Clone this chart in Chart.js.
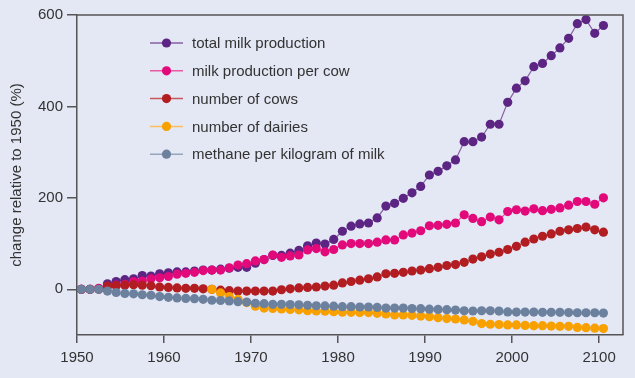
<!DOCTYPE html>
<html>
<head>
<meta charset="utf-8">
<script src="https://cdn.jsdelivr.net/npm/chart.js@4/dist/chart.umd.min.js"></script>
<style>
  html, body { margin: 0; padding: 0; background: #e4e7f4; }
  #wrap { width: 635px; height: 378px; position: relative; }
</style>
</head>
<body>
<div id="wrap"><canvas id="chart"></canvas></div>
<script>
const years = [
  1950, 1951, 1952, 1953, 1954, 1955, 1956, 1957, 1958, 1959,
  1960, 1961, 1962, 1963, 1964, 1965, 1966, 1967, 1968, 1969,
  1970, 1971, 1972, 1973, 1974, 1975, 1976, 1977, 1978, 1979,
  1980, 1981, 1982, 1983, 1984, 1985, 1986, 1987, 1988, 1989,
  1990, 1991, 1992, 1993, 1994, 1995, 1996, 1997, 1998, 1999,
  2000, 2001, 2002, 2003, 2004, 2005, 2006, 2007, 2008, 2009,
  2010,
];

const totalMilk = [
  0, 0, 1, 12, 17, 21, 23, 30, 29, 34,
  36, 38, 38, 40, 42, 42, 44, 46, 48, 48,
  57, 65, 74, 74, 79, 85, 95, 101, 99, 109,
  127, 138, 143, 145, 156, 182, 188, 199, 211, 225,
  250, 258, 270, 283, 323, 323, 333, 361, 361, 409,
  440, 456, 487, 494, 511, 528, 549, 581, 590, 560,
  577,
];

const milkPerCow = [
  0, 0, 2, 6, 9, 11, 17, 18, 23, 25,
  28, 33, 35, 37, 41, 42, 42, 47, 53, 56,
  62, 65, 75, 70, 73, 75, 86, 89, 82, 87,
  97, 100, 100, 100, 103, 108, 108, 119, 123, 128,
  139, 140, 142, 145, 163, 155, 148, 158, 152, 170,
  174, 171, 176, 172, 175, 178, 184, 192, 192, 186,
  200,
];

const cows = [
  0, 0, 0, 7, 8, 9, 10, 9, 8, 5,
  4, 3, 2, 2, 1, 0, -2, -3, -4, -4,
  -4, -4, -4, -1, 1, 3, 4, 5, 7, 9,
  14, 17, 20, 23, 27, 34, 35, 37, 40, 42,
  45, 48, 52, 54, 59, 66, 71, 77, 81, 87,
  94, 103, 110, 116, 121, 127, 130, 133, 136, 130,
  125,
];

const dairies = [
  null, null, null, null, null, null, null, null, null, null,
  null, null, null, null, null, 0, -8, -16, -22, -29,
  -37, -41, -42, -43, -44, -45, -47, -47.5, -48, -49,
  -50, -50.5, -51, -51, -52.5, -54, -56, -56, -57, -58.5,
  -60, -62, -64, -65, -67, -70, -75, -76.5, -77, -78,
  -78, -79, -79.5, -79.5, -80.5, -81, -81, -83.5, -84, -85,
  -86,
];

const methane = [
  0, 0, 0, -4, -7, -9, -10, -12, -13, -16,
  -17.5, -19, -20, -20.5, -22, -24, -24.5, -25.5, -27, -28,
  -30.5, -31.5, -33, -33, -33.5, -34, -35, -36, -36.5, -37,
  -38, -38, -38.8, -38.8, -39.6, -41, -41, -41, -42, -42.5,
  -43.5, -44, -44.7, -45.4, -47, -47.5, -47, -47, -47.6, -49.5,
  -49.8, -49.8, -49.8, -50.5, -50.5, -50.5, -51, -51.3, -51.3, -51.3,
  -52,
];

const seriesNames = [
  "total milk production",
  "milk production per cow",
  "number of cows",
  "number of dairies",
  "methane per kilogram of milk",
];
const seriesColors = ["#5c2483", "#e2097a", "#b21d22", "#f7a000", "#6c819e"];
const lineColors = ["#8661a3", "#ea5aa2", "#c8585c", "#f9c060", "#95a5bb"];

const xTicks = [1950, 1960, 1970, 1980, 1990, 2000, 2010];
const xTickLabels = ["1950", "1960", "1970", "1980", "1990", "2000", "2100"];
const yTicks = [0, 200, 400, 600];

const FONT = "'Liberation Sans', Arial, sans-serif";
const TEXT = "#333333";
const AXIS = "#555555";

(function () {
  const canvas = document.getElementById("chart");
  const allSeries = [totalMilk, milkPerCow, cows, dairies, methane];

  // points are yearly averages, so they sit at mid-year
  const datasets = allSeries.map((vals, k) => ({
    label: seriesNames[k],
    data: vals.map((v, i) => ({ x: years[i] + 0.5, y: v })),
    borderColor: lineColors[k],
    backgroundColor: seriesColors[k],
    pointBackgroundColor: seriesColors[k],
    pointBorderWidth: 0,
    pointRadius: 4.6,
    borderWidth: 1.2,
    tension: 0,
    spanGaps: false,
    order: allSeries.length - k,
  }));

  const framePlugin = {
    id: "frame",
    afterDatasetsDraw(chart) {
      const { ctx, chartArea } = chart;
      ctx.save();
      ctx.strokeStyle = AXIS;
      ctx.lineWidth = 1.5;
      ctx.beginPath();
      ctx.moveTo(chartArea.left, chartArea.top);
      ctx.lineTo(chartArea.right, chartArea.top);
      ctx.lineTo(chartArea.right, chartArea.bottom);
      ctx.stroke();
      ctx.restore();
    },
  };

  const legendPlugin = {
    id: "dotLegend",
    afterDraw(chart) {
      const { ctx } = chart;
      ctx.save();
      ctx.font = "15px " + FONT;
      ctx.textBaseline = "middle";
      seriesNames.forEach((name, k) => {
        const y = 43 + k * 27.8;
        ctx.strokeStyle = lineColors[k];
        ctx.lineWidth = 1.5;
        ctx.beginPath();
        ctx.moveTo(150, y);
        ctx.lineTo(183, y);
        ctx.stroke();
        ctx.fillStyle = seriesColors[k];
        ctx.beginPath();
        ctx.arc(166.5, y, 4.6, 0, Math.PI * 2);
        ctx.fill();
        ctx.fillStyle = TEXT;
        ctx.fillText(name, 192, y + 1);
      });
      ctx.restore();
    },
  };

  new Chart(canvas.getContext("2d"), {
    type: "line",
    data: { datasets },
    options: {
      responsive: true,
      maintainAspectRatio: false,
      animation: false,
      layout: { padding: { top: 15, right: 12, left: 0, bottom: 0 } },
      plugins: { legend: { display: false }, tooltip: { enabled: false } },
      scales: {
        x: {
          type: "linear",
          min: 1950,
          max: 2012.75,
          afterBuildTicks: (scale) => { scale.ticks = xTicks.map((v) => ({ value: v })); },
          afterFit: (scale) => { scale.height = 43; },
          ticks: {
            callback: (v, i) => xTickLabels[i],
            color: TEXT,
            font: { family: FONT, size: 15 },
            padding: 6,
            maxRotation: 0,
          },
          grid: { drawOnChartArea: false, color: AXIS, tickLength: 8, lineWidth: 1.5 },
          border: { color: AXIS, width: 1.5 },
        },
        y: {
          min: -100,
          max: 600,
          afterBuildTicks: (scale) => { scale.ticks = yTicks.map((v) => ({ value: v })); },
          afterFit: (scale) => { scale.width = 77; },
          ticks: {
            color: TEXT,
            font: { family: FONT, size: 15 },
            padding: 4,
          },
          grid: { drawOnChartArea: false, color: AXIS, tickLength: 10, lineWidth: 1.5 },
          border: { color: AXIS, width: 1.5 },
          title: {
            display: true,
            text: "change relative to 1950 (%)",
            color: TEXT,
            font: { family: FONT, size: 15 },
            padding: { top: 8, bottom: 0 },
          },
        },
      },
    },
    plugins: [framePlugin, legendPlugin],
  });
})();
</script>
</body>
</html>
